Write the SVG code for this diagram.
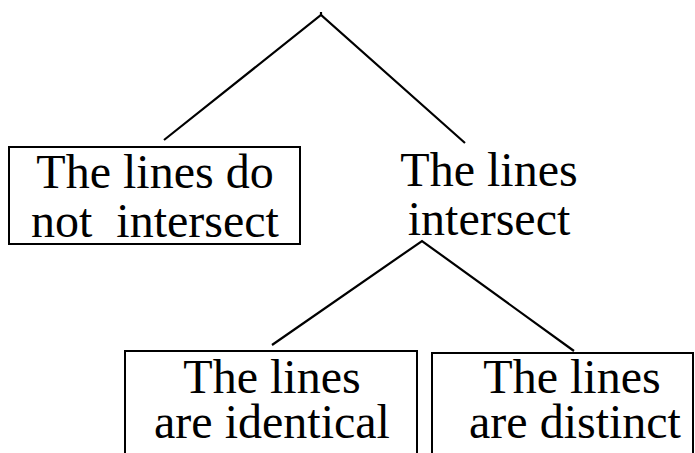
<svg xmlns="http://www.w3.org/2000/svg" width="695" height="453" viewBox="0 0 695 453">
<style>
.box{fill:none;stroke:#000;stroke-width:2}
.ln{fill:none;stroke:#000;stroke-width:2.2}
text{font-family:"Liberation Serif","Times New Roman",serif;font-size:48px;fill:#000;text-anchor:middle;white-space:pre}
</style>
<rect width="695" height="453" fill="#fff"/>
<g id="connectors">
<polyline class="ln" points="164,140 321,15 465,143"/>
<line class="ln" x1="321" y1="12" x2="321" y2="16"/>
<polyline class="ln" points="272,345 422,241 574,351"/>
</g>
<g id="node-not-intersect">
<rect class="box" x="9" y="147" width="291" height="97"/>
<text x="155" y="188">The lines do</text>
<text x="155" y="237" xml:space="preserve">not  intersect</text>
</g>
<g id="node-intersect">
<text x="489" y="186">The lines</text>
<text x="489" y="235">intersect</text>
</g>
<g id="node-identical">
<rect class="box" x="125" y="351" width="292" height="110"/>
<text x="272" y="393">The lines</text>
<text x="272" y="438">are identical</text>
</g>
<g id="node-distinct">
<rect class="box" x="432" y="353" width="261" height="110"/>
<text x="572" y="393">The lines</text>
<text x="575" y="438">are distinct</text>
</g>
</svg>
